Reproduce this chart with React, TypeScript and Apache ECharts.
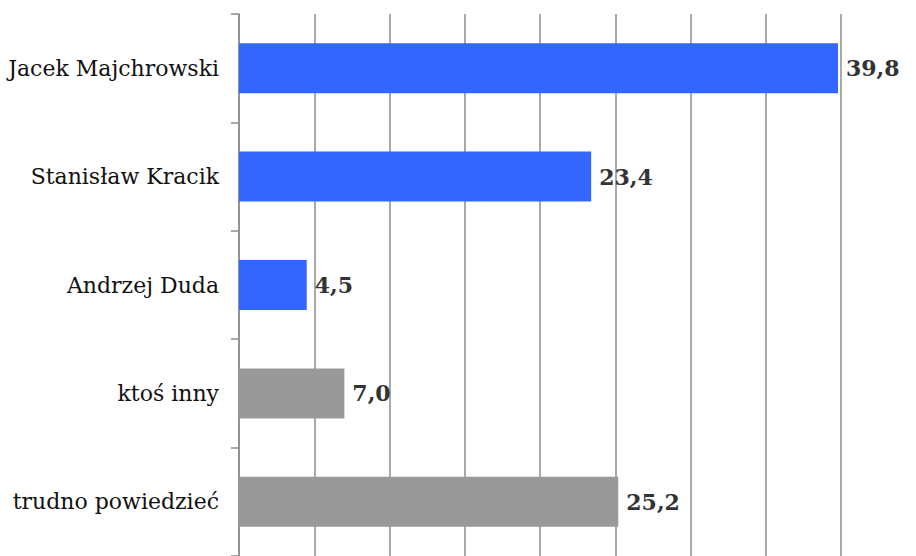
import React, { useEffect, useRef } from "react";
import * as echarts from "echarts";

const categories = [
  "Jacek Majchrowski",
  "Stanisław Kracik",
  "Andrzej Duda",
  "ktoś inny",
  "trudno powiedzieć",
];
const values = [39.8, 23.4, 4.5, 7.0, 25.2];
const barColors = ["#3366FF", "#3366FF", "#3366FF", "#999999", "#999999"];

export default function App() {
  const ref = useRef<HTMLDivElement>(null);
  useEffect(() => {
    if (!ref.current) return;
    const chart = echarts.init(ref.current, undefined, { renderer: "svg" });
    chart.setOption({
      animation: false,
      grid: { left: 239, top: 14, width: 602, height: 547 },
      xAxis: {
        type: "value",
        min: 0,
        max: 40,
        interval: 5,
        axisLabel: { show: false },
        axisLine: { show: false },
        axisTick: { show: false },
        splitLine: { show: true, lineStyle: { color: "#8c8c8c", width: 1.5 } },
      },
      yAxis: {
        type: "category",
        inverse: true,
        data: categories,
        axisLine: { show: true, lineStyle: { color: "#8c8c8c", width: 1.5 } },
        axisTick: { show: true, length: 8, lineStyle: { color: "#8c8c8c", width: 1.5 } },
        axisLabel: {
          margin: 20,
          color: "#111111",
          fontFamily: "DejaVu Serif",
          fontSize: 22,
        },
      },
      series: [
        {
          type: "bar",
          barWidth: 50,
          data: values.map((v, i) => ({ value: v, itemStyle: { color: barColors[i] } })),
          label: {
            show: true,
            position: "right",
            distance: 8,
            color: "#333333",
            fontFamily: "DejaVu Serif",
            fontWeight: "bold",
            fontSize: 22,
            formatter: (p: any) => Number(p.value).toFixed(1).replace(".", ","),
          },
        },
      ],
    });
    return () => chart.dispose();
  }, []);
  return (
    <div
      ref={ref}
      style={{ position: "absolute", left: 0, top: 0, width: 916, height: 556 }}
    />
  );
}
